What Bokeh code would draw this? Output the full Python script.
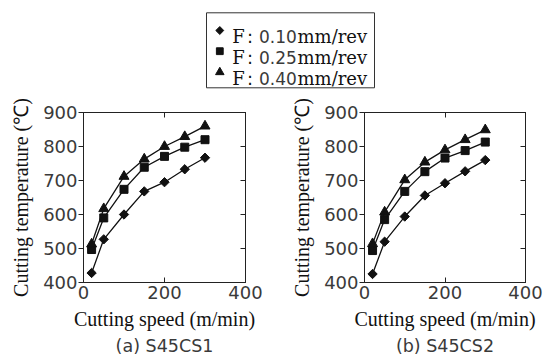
from bokeh.plotting import figure
from bokeh.models import Range1d, FixedTicker, LinearAxis, Title
from bokeh.layouts import column, row
from bokeh.core.properties import value
from bokeh.embed import file_html
from bokeh.resources import INLINE

# ---------------- data ----------------
speed = [20, 50, 100, 150, 200, 250, 300]          # m/min

a_f010 = [428, 527, 600, 668, 695, 733, 767]       # S45CS1, F 0.10
a_f025 = [497, 590, 674, 739, 771, 798, 820]       # S45CS1, F 0.25
a_f040 = [513, 617, 712, 763, 800, 829, 860]       # S45CS1, F 0.40

b_f010 = [425, 520, 594, 656, 692, 727, 760]       # S45CS2, F 0.10
b_f025 = [494, 585, 668, 726, 766, 788, 813]       # S45CS2, F 0.25
b_f040 = [514, 607, 702, 754, 790, 820, 849]       # S45CS2, F 0.40

x_ticks = [0, 200, 400]
y_ticks = [400, 500, 600, 700, 800, 900]
feed_values = ["0.10", "0.25", "0.40"]
captions = ["(a) S45CS1", "(b) S45CS2"]

SERIF = "Liberation Serif"
LSERIF = "DejaVu Serif"
SANS = "DejaVu Sans"
INK = "#111111"
NUM = "#3a3a3a"
LINE = "#222222"

markers = ["square", "square", "triangle"]
msizes = [6.6, 8, 10]
mangles = [0.785398, 0, 0]


def make_panel(series, caption, width, left, right):
    p = figure(width=width, height=267,
               x_range=Range1d(0, 400), y_range=Range1d(400, 900),
               output_backend="svg", toolbar_location=None,
               min_border_left=left, min_border_right=right,
               min_border_top=20, min_border_bottom=77)
    p.grid.visible = False
    p.outline_line_color = LINE
    p.background_fill_color = "white"
    p.border_fill_color = "white"

    xa = p.xaxis[0]
    xa.ticker = FixedTicker(ticks=x_ticks)
    xa.major_tick_in = 5
    xa.major_tick_out = 0
    xa.minor_tick_line_color = None
    xa.axis_line_color = LINE
    xa.major_tick_line_color = LINE
    xa.major_label_text_font = SANS
    xa.major_label_text_font_size = "18px"
    xa.major_label_text_color = NUM
    xa.major_label_standoff = 3
    xa.axis_label = "Cutting speed (m/min)"
    xa.axis_label_text_font = SERIF
    xa.axis_label_text_font_size = "20px"
    xa.axis_label_text_font_style = "normal"
    xa.axis_label_text_color = INK
    xa.axis_label_standoff = 6

    ya = p.yaxis[0]
    ya.ticker = FixedTicker(ticks=y_ticks)
    ya.major_tick_in = 0
    ya.major_tick_out = 5
    ya.minor_tick_line_color = None
    ya.axis_line_color = LINE
    ya.major_tick_line_color = LINE
    ya.major_label_text_font = SANS
    ya.major_label_text_font_size = "18px"
    ya.major_label_text_color = NUM
    ya.major_label_standoff = 1
    ya.axis_label = "Cutting temperature (\u2103)"
    ya.axis_label_text_font = SERIF
    ya.axis_label_text_font_size = "20px"
    ya.axis_label_text_font_style = "normal"
    ya.axis_label_text_color = INK
    ya.axis_label_standoff = 8

    for side, ticks in (("right", y_ticks), ("above", x_ticks)):
        ax = LinearAxis(ticker=FixedTicker(ticks=ticks),
                        major_tick_in=5, major_tick_out=0,
                        minor_tick_line_color=None,
                        major_label_text_color=None,
                        major_label_text_font_size="6px",
                        major_label_standoff=0,
                        axis_line_color=LINE, major_tick_line_color=LINE)
        p.add_layout(ax, side)

    cap = Title(text=caption, align="center", text_font=SANS,
                text_font_size="17.5px", text_font_style="normal",
                text_color=NUM, standoff=3, offset=4)
    p.add_layout(cap, "below")

    for vals, mk, sz, ang in zip(series, markers, msizes, mangles):
        p.line(speed, vals, line_color=INK, line_width=1.3)
        p.scatter(speed, vals, marker=mk, size=sz, angle=ang,
                  fill_color=INK, line_color=INK)
    return p


pa = make_panel([a_f010, a_f025, a_f040], captions[0], 284, 83, 39)
pb = make_panel([b_f010, b_f025, b_f040], captions[1], 269, 80, 28)

# ---------------- legend strip (screen-pixel coordinates) ----------------
lg = figure(width=553, height=92, x_range=Range1d(0, 553), y_range=Range1d(92, 0),
            x_axis_type=None, y_axis_type=None, output_backend="svg",
            toolbar_location=None, min_border=0, outline_line_color=None)
lg.grid.visible = False
lg.quad(left=[206], right=[374], top=[12.3], bottom=[87.3],
        fill_color=None, line_color="#333333", line_width=1)
row_marker_y = [30, 50.7, 71.7]
row_base_y = [36, 56.7, 78.3]
for i in range(3):
    lg.scatter([219.3], [row_marker_y[i]], marker=markers[i], size=msizes[i] * 0.85,
               angle=mangles[i], fill_color=INK, line_color=INK)
lg.text(x=[231.7] * 3, y=row_base_y, text=["F"] * 3, text_font=value(LSERIF),
        text_font_size="18px", text_baseline="alphabetic", text_align="left", text_color=INK)
lg.text(x=[249.5] * 3, y=row_base_y, text=[":"] * 3, text_font=value(SANS),
        text_font_size="18px", text_baseline="alphabetic", text_align="center", text_color=INK)
lg.text(x=[258.5] * 3, y=row_base_y, text=feed_values, text_font=value(SANS),
        text_font_size="17px", text_baseline="alphabetic", text_align="left", text_color=NUM)
lg.text(x=[297] * 3, y=row_base_y, text=["mm/rev"] * 3, text_font=value(LSERIF),
        text_font_size="18px", text_baseline="alphabetic", text_align="left", text_color=INK)

layout = column(lg, row(pa, pb))

with open("out.html", "w") as f:
    f.write(file_html(layout, INLINE))
